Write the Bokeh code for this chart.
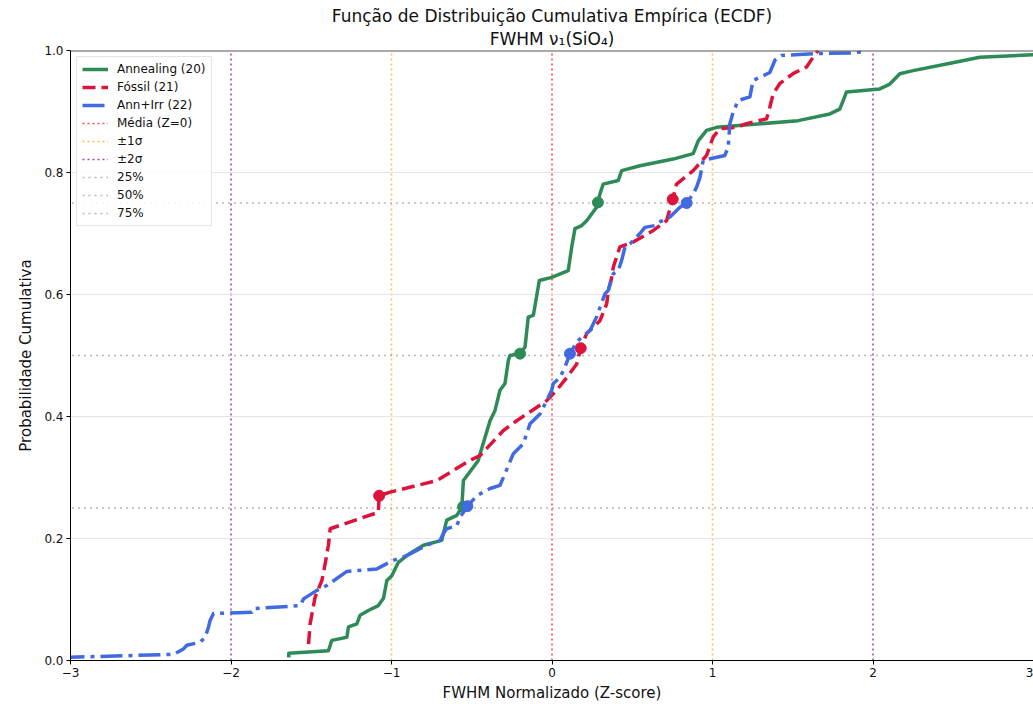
from bokeh.plotting import figure
from bokeh.models import Span, Legend, LegendItem, Title, FixedTicker, PrintfTickFormatter
from bokeh.embed import file_html
from bokeh.resources import INLINE

FONT = "DejaVu Sans"

title_line1 = "Função de Distribuição Cumulativa Empírica (ECDF)"
title_line2 = "FWHM ν₁(SiO₄)"
x_label = "FWHM Normalizado (Z-score)"
y_label = "Probabilidade Cumulativa"

series_names = ["Annealing (20)", "Fóssil (21)", "Ann+Irr (22)"]
series_colors = ["#2E8B57", "#DC143C", "#4169E1"]

# ECDF curve vertices (Z-score, cumulative probability)
ann_x = [-1.64, -1.64, -1.393, -1.372, -1.278, -1.268, -1.216, -1.196, -1.144, -1.082,
         -1.050, -1.029, -0.998, -0.957, -0.905, -0.801, -0.687, -0.656, -0.593, -0.562,
         -0.552, -0.459, -0.448, -0.386, -0.355, -0.324, -0.293, -0.272, -0.262, -0.199,
         -0.168, -0.148, -0.116, -0.079, -0.002, 0.101, 0.123, 0.143, 0.185, 0.216,
         0.278, 0.299, 0.319, 0.413, 0.434, 0.548, 0.755, 0.880, 0.911, 0.963,
         1.026, 1.534, 1.731, 1.793, 1.814, 1.835, 2.042, 2.105, 2.167, 2.250,
         2.458, 2.665, 2.995, 3.2]
ann_y = [0.005, 0.012, 0.016, 0.033, 0.038, 0.055, 0.060, 0.074, 0.082, 0.090,
         0.102, 0.131, 0.139, 0.161, 0.172, 0.189, 0.197, 0.230, 0.238, 0.251,
         0.295, 0.328, 0.339, 0.393, 0.410, 0.443, 0.454, 0.492, 0.500, 0.503,
         0.514, 0.563, 0.566, 0.623, 0.628, 0.639, 0.678, 0.708, 0.713, 0.721,
         0.743, 0.765, 0.781, 0.787, 0.803, 0.811, 0.822, 0.831, 0.852, 0.869,
         0.874, 0.885, 0.896, 0.904, 0.918, 0.932, 0.937, 0.945, 0.962, 0.967,
         0.978, 0.989, 0.993, 0.995]

fos_x = [-1.517, -1.507, -1.476, -1.434, -1.413, -1.393, -1.382, -1.082, -1.077, -1.009,
         -0.718, -0.511, -0.448, -0.303, -0.220, -0.033, 0.029, 0.092, 0.154, 0.179,
         0.216, 0.299, 0.341, 0.351, 0.372, 0.382, 0.423, 0.506, 0.631, 0.714,
         0.752, 0.776, 0.880, 0.963, 1.004, 1.046, 1.150, 1.212, 1.337, 1.357,
         1.378, 1.420, 1.502, 1.586, 1.627, 1.658]
fos_y = [0.027, 0.060, 0.104, 0.131, 0.159, 0.189, 0.216, 0.243, 0.270, 0.276,
         0.295, 0.328, 0.336, 0.377, 0.393, 0.426, 0.443, 0.464, 0.486, 0.512,
         0.536, 0.557, 0.585, 0.607, 0.628, 0.645, 0.678, 0.686, 0.705, 0.721,
         0.756, 0.781, 0.803, 0.828, 0.858, 0.872, 0.874, 0.880, 0.888, 0.907,
         0.929, 0.946, 0.962, 0.973, 0.989, 1.000]

irr_x = [-3.05, -2.358, -2.296, -2.275, -2.192, -2.161, -2.140, -2.130, -2.109, -2.005,
         -1.870, -1.860, -1.569, -1.548, -1.465, -1.403, -1.278, -1.092, -1.050, -0.988,
         -0.905, -0.780, -0.697, -0.677, -0.656, -0.593, -0.573, -0.527, -0.469, -0.386,
         -0.324, -0.241, -0.179, -0.158, -0.137, -0.075, -0.033, -0.002, 0.008, 0.050,
         0.081, 0.112, 0.154, 0.185, 0.237, 0.278, 0.299, 0.330, 0.351, 0.382,
         0.413, 0.434, 0.455, 0.486, 0.548, 0.579, 0.641, 0.672, 0.735, 0.797,
         0.839, 0.880, 0.901, 0.922, 0.942, 1.077, 1.098, 1.108, 1.129, 1.160,
         1.233, 1.253, 1.295, 1.357, 1.389, 1.430, 1.648, 1.866, 1.938]
irr_y = [0.005, 0.010, 0.019, 0.025, 0.030, 0.038, 0.055, 0.066, 0.077, 0.078,
         0.079, 0.085, 0.090, 0.101, 0.115, 0.123, 0.146, 0.150, 0.156, 0.164,
         0.172, 0.189, 0.197, 0.208, 0.216, 0.221, 0.235, 0.253, 0.270, 0.282,
         0.287, 0.339, 0.355, 0.372, 0.388, 0.404, 0.426, 0.443, 0.454, 0.464,
         0.481, 0.503, 0.522, 0.530, 0.541, 0.563, 0.579, 0.601, 0.607, 0.634,
         0.639, 0.656, 0.678, 0.683, 0.700, 0.710, 0.713, 0.719, 0.727, 0.743,
         0.750, 0.765, 0.776, 0.792, 0.820, 0.828, 0.842, 0.880, 0.899, 0.918,
         0.924, 0.951, 0.956, 0.964, 0.984, 0.992, 0.995, 0.996, 0.998]

# quartile markers (25%, 50%, 75%)
ann_qx = [-0.554, -0.199, 0.286]
ann_qy = [0.252, 0.503, 0.751]
fos_qx = [-1.077, 0.179, 0.752]
fos_qy = [0.270, 0.512, 0.756]
irr_qx = [-0.527, 0.112, 0.839]
irr_qy = [0.253, 0.503, 0.750]

mean_level = [0]
sigma1_levels = [-1, 1]
sigma2_levels = [-2, 2]
quantile_levels = [0.25, 0.5, 0.75]
quantile_names = ["25%", "50%", "75%"]

x_ticks = [-3, -2, -1, 0, 1, 2, 3]
y_ticks = [0.0, 0.2, 0.4, 0.6, 0.8, 1.0]
X_MIN, X_MAX = -3, 3
Y_MIN, Y_MAX = 0, 1

p = figure(width=1033, height=704, x_range=(X_MIN, X_MAX), y_range=(Y_MIN, Y_MAX),
           output_backend="svg", toolbar_location=None, title=None,
           min_border_left=70, min_border_right=0, min_border_top=50, min_border_bottom=44)

p.add_layout(Title(text=title_line2, align="center", offset=4, text_font=FONT,
                   text_font_size="17px", text_font_style="normal", text_color="#111111",
                   standoff=3), "above")
p.add_layout(Title(text=title_line1, align="center", offset=4, text_font=FONT,
                   text_font_size="17px", text_font_style="normal", text_color="#111111",
                   standoff=0), "above")

p.outline_line_color = None
p.background_fill_color = "white"
p.border_fill_color = "white"

p.xgrid.visible = False
p.ygrid.grid_line_color = "#e5e5e5"
p.ygrid.grid_line_width = 1

p.xaxis.ticker = FixedTicker(ticks=x_ticks)
p.xaxis.major_label_overrides = {t: str(t).replace("-", "\u2212") for t in x_ticks}
p.yaxis.ticker = FixedTicker(ticks=y_ticks)
p.yaxis.formatter = PrintfTickFormatter(format="%.1f")
p.xaxis.axis_label = x_label
p.yaxis.axis_label = y_label
for ax in (p.xaxis[0], p.yaxis[0]):
    ax.axis_line_color = "black"
    ax.axis_line_width = 1
    ax.major_tick_line_color = "black"
    ax.major_tick_out = 4
    ax.major_tick_in = 0
    ax.minor_tick_line_color = None
    ax.major_label_text_font = FONT
    ax.major_label_text_font_size = "12px"
    ax.major_label_text_color = "#111111"
    ax.major_label_standoff = 3
    ax.axis_label_text_font = FONT
    ax.axis_label_text_font_size = "15px"
    ax.axis_label_text_font_style = "normal"
    ax.axis_label_text_color = "#111111"
    ax.axis_label_standoff = 6
p.xaxis[0].axis_label_standoff = 4

# top spine
p.add_layout(Span(location=Y_MAX, dimension="width", line_color="#555555", line_width=2))

curve_items = []
for xs, ys, qx, qy, name, color, dash in [
    (ann_x, ann_y, ann_qx, ann_qy, series_names[0], series_colors[0], "solid"),
    (fos_x, fos_y, fos_qx, fos_qy, series_names[1], series_colors[1], "13 6"),
    (irr_x, irr_y, irr_qx, irr_qy, series_names[2], series_colors[2], "22 6 4 6"),
]:
    r = p.line(xs, ys, line_color=color, line_width=3.5, line_dash=dash, line_join="round")
    p.scatter(qx, qy, size=11, fill_color=color, line_color=color)
    curve_items.append(LegendItem(label=name, renderers=[r]))

ref_items = []
for levels, color, name in [(mean_level, "red", "Média (Z=0)"),
                            (sigma1_levels, "orange", "±1σ"),
                            (sigma2_levels, "purple", "±2σ")]:
    r = p.multi_line(xs=[[lv, lv] for lv in levels], ys=[[Y_MIN, Y_MAX] for _ in levels],
                     line_color=color, line_alpha=0.7, line_width=1.6, line_dash="2 3")
    r.level = "underlay"
    ref_items.append(LegendItem(label=name, renderers=[r]))

for lv, name in zip(quantile_levels, quantile_names):
    r = p.line([X_MIN - 1, X_MAX + 1], [lv, lv], line_color="gray", line_alpha=0.55,
               line_width=1.6, line_dash="2 4")
    r.level = "underlay"
    ref_items.append(LegendItem(label=name, renderers=[r]))

legend = Legend(items=curve_items + ref_items, location="top_left",
                label_text_font=FONT, label_text_font_size="12px", label_text_color="#111111",
                glyph_width=26, glyph_height=14, label_height=14, spacing=4,
                padding=5, margin=6, label_standoff=9,
                border_line_color="#cccccc", border_line_width=1,
                background_fill_color="white", background_fill_alpha=0.85)
p.add_layout(legend)

open("out.html", "w").write(file_html(p, INLINE))
